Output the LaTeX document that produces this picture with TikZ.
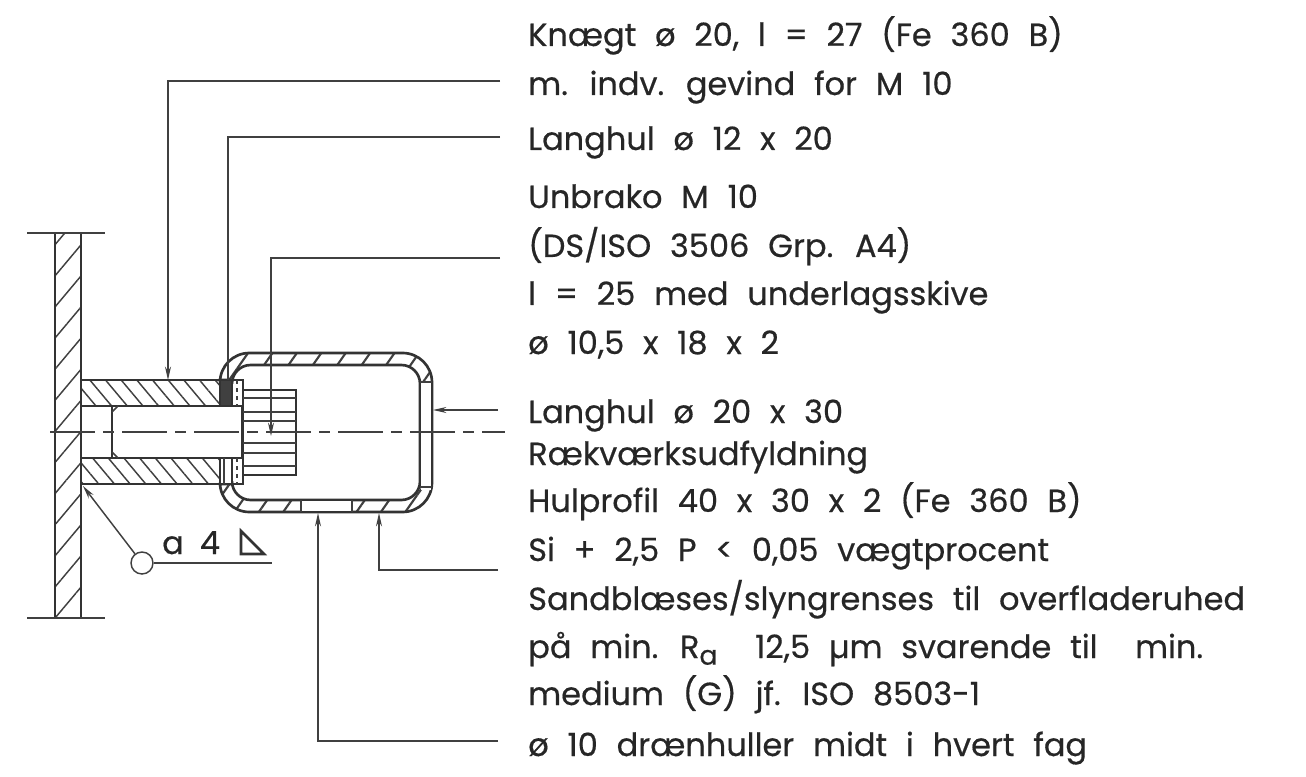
\documentclass[tikz,border=0pt]{standalone}
\usepackage{fontspec}
\setmainfont{Poppins}[WordSpace=2.2,FakeBold=0.5]
\usetikzlibrary{arrows.meta,patterns.meta}

\tikzset{
  txt/.style={anchor=base west, inner sep=0pt, font=\fontsize{24}{26}\selectfont, text=black!85},
  kant/.style={line width=2pt, black!80},
  tynd/.style={line width=1.1pt, black!75},
  pil/.style={tynd, -{Stealth[length=10pt,width=4.5pt]}},
  midt/.style={line width=1.1pt, black!75, dash pattern=on 34pt off 6pt on 8pt off 6pt},
  snit/.style={pattern={Lines[angle=-50,distance=9pt,line width=1.1pt]}, pattern color=black!75},
  vaeg/.style={pattern={Lines[angle=50,distance=15pt,line width=1.1pt]}, pattern color=black!75},
  rør/.style={pattern={Lines[angle=55,distance=15pt,line width=1.6pt]}, pattern color=black!75}
}

\begin{document}
\begin{tikzpicture}[x=0.75pt,y=-0.75pt]
\useasboundingbox (0,0) rectangle (1306,777);

% tekst
\node[txt] (t1) at (528,46) {Knægt ø 20, l = 27 (Fe 360 B)};
\node[txt] (t2) at (528,95) {m. indv. gevind for M 10};
\node[txt] (t3) at (528,150) {Langhul ø 12 x 20};
\node[txt] (t4) at (528,208) {Unbrako M 10};
\node[txt] (t5) at (528,257) {(DS/ISO 3506 Grp. A4)};
\node[txt] (t6) at (528,305) {l = 25 med underlagsskive};
\node[txt] (t7) at (528,354) {ø 10,5 x 18 x 2};
\node[txt] (t8) at (528,423) {Langhul ø 20 x 30};
\node[txt] (t9) at (528,465) {Rækværksudfyldning};
\node[txt] (t10) at (528,512) {Hulprofil 40 x 30 x 2 (Fe 360 B)};
\node[txt] (t11) at (528,561) {Si + 2,5 P < 0,05 vægtprocent};
\node[txt] (t12) at (528,610) {Sandblæses/slyngrenses til overfladeruhed};
\node[txt] (t13) at (528,658) {på min. R\raisebox{-5pt}{\fontsize{20}{20}\selectfont a} \ 12,5 µm svarende til \ min.};
\node[txt] (t14) at (528,705) {medium (G) jf. ISO 8503-1};
\node[txt] (t15) at (528,756) {ø 10 drænhuller midt i hvert fag};

% vaeg
\fill[vaeg] (55,233) rectangle (81,618);
\draw[kant] (55,233) -- (55,618);
\draw[kant] (81,233) -- (81,618);
\draw[tynd] (27,233) -- (105,233);
\draw[tynd] (27,618) -- (105,618);

% roer
\draw[kant,rør,even odd rule] (220,380) {[rounded corners=22] -- (220,353) -- (432,353) -- (432,512) -- (220,512)} -- (220,484) -- (232,484)
  {[rounded corners=14] -- (232,500) -- (420,500) -- (420,365) -- (232,365)} -- (232,380) -- cycle;
\fill[white] (421,382) rectangle (431,490);
\draw[tynd] (420,382) -- (432,382);
\draw[tynd] (420,487) -- (432,487);
\fill[white] (301,501) rectangle (352,511);
\draw[tynd] (301,500) -- (301,512);
\draw[tynd] (352,500) -- (352,512);

% knaegt
\draw[kant,snit] (81,380) rectangle (220,406);
\draw[kant,snit] (81,458) rectangle (220,484);
\draw[kant] (112,406) -- (112,458);
\draw[tynd] (112,412) -- (118,406);
\draw[tynd] (112,452) -- (118,458);

% skive
\fill[black!75] (220,380) rectangle (232,406);
\fill[white] (220,458) rectangle (232,484);
\draw[kant] (220,380) rectangle (243,406);
\draw[kant] (220,458) rectangle (243,484);
\draw[kant] (232,380) -- (232,406);
\draw[kant] (232,458) -- (232,484);
\draw[tynd] (224,458) -- (224,484);
\draw[tynd,dashed] (237,380) -- (237,406);
\draw[tynd,dashed] (237,458) -- (237,484);

% bolt
\draw[kant] (243,390) rectangle (296,475);
\draw[tynd] (243,398) -- (296,398);
\draw[tynd] (243,412) -- (296,412);
\draw[tynd] (243,421) -- (296,421);
\draw[tynd] (243,443) -- (296,443);
\draw[tynd] (243,453) -- (296,453);
\draw[tynd] (243,466) -- (296,466);
\draw[kant] (242,406) -- (242,458);

% midterlinie
\draw[midt] (50,432) -- (505,432);

% henvisninger
\coordinate (l1) at (500,81);
\coordinate (m1) at (168,380);
\coordinate (l2) at (500,137);
\coordinate (m2) at (228,380);
\coordinate (l3) at (500,258);
\coordinate (m3) at (271,436);
\coordinate (l4) at (498,410);
\coordinate (m4) at (433,410);
\coordinate (l5) at (498,570);
\coordinate (m5) at (379,513);
\coordinate (l6) at (498,741);
\coordinate (m6) at (318,513);
\draw[pil] (l1) -| (m1);
\draw[tynd] (l2) -| (m2);
\draw[pil] (l3) -| (m3);
\draw[pil] (l4) -- (m4);
\draw[pil] (l5) -| (m5);
\draw[pil] (l6) -| (m6);

% svejsning
\node[circle, draw, tynd, minimum size=16.5pt, inner sep=0pt] (sv) at (142,563) {};
\coordinate (m7) at (83,486);
\coordinate (sv2) at (272,563);
\draw[pil] (sv) -- (m7);
\draw[tynd] (sv.east) -- (sv2);
\node[txt, anchor=base] (a4a) at (173,554) {a};
\node[txt, anchor=base] (a4b) at (210,554) {4};
\draw[kant] (241,531) -- (241,554) -- (264,554) -- cycle;
\end{tikzpicture}
\end{document}
